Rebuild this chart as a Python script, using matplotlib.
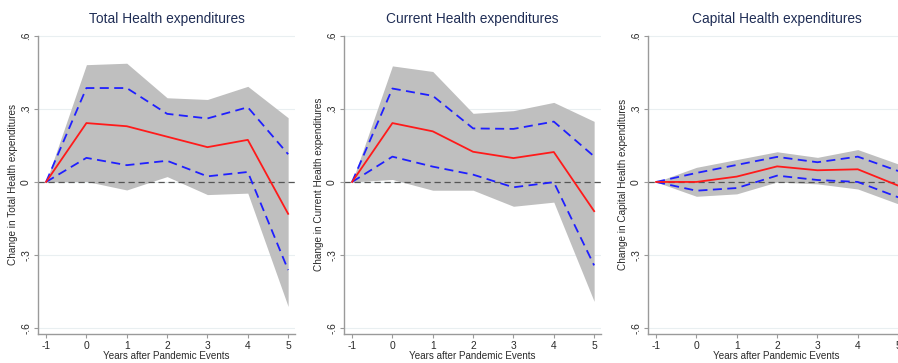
import numpy as np
import matplotlib.pyplot as plt

plt.rcParams['font.family'] = ['Liberation Sans', 'DejaVu Sans']

years = [-1, 0, 1, 2, 3, 4, 5]

titles = ['Total Health expenditures',
          'Current Health expenditures',
          'Capital Health expenditures']
ylabels = ['Change in Total Health expenditures',
           'Change in Current Health expenditures',
           'Change in Capital Health expenditures']

# point estimates
total_est   = [0, 0.242, 0.229, 0.186, 0.143, 0.173, -0.131]
current_est = [0, 0.242, 0.208, 0.124, 0.098, 0.123, -0.120]
capital_est = [0, 0.000, 0.022, 0.064, 0.048, 0.052, -0.015]

# inner (dashed) interval
total_hi   = [0, 0.386, 0.386, 0.280, 0.261, 0.307, 0.114]
total_lo   = [0, 0.099, 0.069, 0.087, 0.023, 0.041, -0.362]
current_hi = [0, 0.384, 0.354, 0.220, 0.218, 0.248, 0.105]
current_lo = [0, 0.104, 0.063, 0.030, -0.022, -0.001, -0.343]
capital_hi = [0, 0.037, 0.070, 0.103, 0.081, 0.104, 0.045]
capital_lo = [0, -0.036, -0.025, 0.026, 0.008, 0.000, -0.063]

# outer (shaded) interval
total_band_hi   = [0, 0.482, 0.488, 0.346, 0.339, 0.393, 0.264]
total_band_lo   = [0, 0.002, -0.033, 0.022, -0.052, -0.046, -0.512]
current_band_hi = [0, 0.477, 0.454, 0.282, 0.293, 0.327, 0.249]
current_band_lo = [0, 0.010, -0.034, -0.034, -0.100, -0.083, -0.491]
capital_band_hi = [0, 0.060, 0.092, 0.124, 0.101, 0.133, 0.074]
capital_band_lo = [0, -0.059, -0.049, 0.000, -0.008, -0.029, -0.090]

yticks = [-0.6, -0.3, 0, 0.3, 0.6]
ytick_labels = ['-.6', '-.3', '0', '.3', '.6']

panels = [
    (total_est, total_hi, total_lo, total_band_hi, total_band_lo),
    (current_est, current_hi, current_lo, current_band_hi, current_band_lo),
    (capital_est, capital_hi, capital_lo, capital_band_hi, capital_band_lo),
]

W, H = 898, 363
fig = plt.figure(figsize=(W / 100, H / 100), dpi=100)

# the third panel runs past the right edge of the canvas
lefts = [38, 344, 648]
ax_w, ax_bot, ax_top = 257, 334, 35
axis_col = '#9a9a9a'

for i, (est, hi, lo, bhi, blo) in enumerate(panels):
    ax = fig.add_axes([lefts[i] / W, (H - ax_bot) / H,
                       ax_w / W, (ax_bot - ax_top) / H])
    ax.fill_between(years, blo, bhi, color='#bfbfbf', lw=0, zorder=1)
    ax.axhline(0, color='#555555', lw=0.9, ls=(0, (5, 3)), zorder=2)
    ax.plot(years, hi, color='#1f1fff', lw=1.3, ls=(0, (5, 3)), zorder=3)
    ax.plot(years, lo, color='#1f1fff', lw=1.3, ls=(0, (5, 3)), zorder=3)
    ax.plot(years, est, color='#ff1a1a', lw=1.3, zorder=4)

    for y in yticks:
        ax.axhline(y, color='#e9eff1', lw=0.8, zorder=0)

    ax.set_xlim(-1.2, 5.17)
    ax.set_ylim(-0.625, 0.604)
    ax.set_xticks(years)
    ax.set_xticklabels([str(y) for y in years])
    ax.set_yticks(yticks)
    ax.set_yticklabels(ytick_labels, rotation=90, va='center')

    for side in ('top', 'right'):
        ax.spines[side].set_visible(False)
    for side in ('left', 'bottom'):
        ax.spines[side].set_color(axis_col)
        ax.spines[side].set_linewidth(1.0)
    ax.spines['left'].set_bounds(-0.625, 0.6)
    ax.tick_params(axis='both', colors=axis_col, length=3, width=0.8,
                   labelcolor='#2a2a2a', labelsize=7.4, pad=2)

    ax.set_xlabel('Years after Pandemic Events', fontsize=7.1,
                  color='#2a2a2a', labelpad=0)
    ax.set_ylabel(ylabels[i], fontsize=7.2, color='#2a2a2a', labelpad=2)
    ax.set_title(titles[i], fontsize=9.9, color='#1f2d55', pad=9)

fig.savefig('out.png', dpi=100)
